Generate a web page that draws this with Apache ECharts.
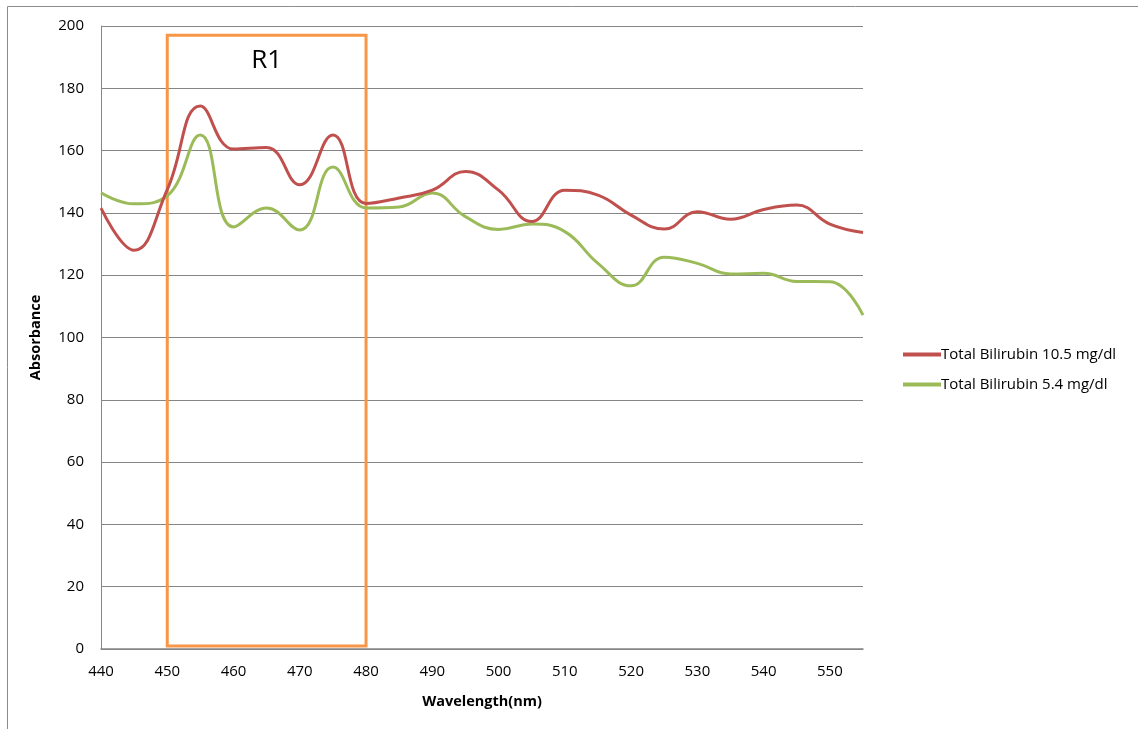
<!DOCTYPE html>
<html>
<head>
<meta charset="utf-8">
<script src="https://cdn.jsdelivr.net/npm/echarts@6/dist/echarts.min.js"></script>
<style>
html,body{margin:0;padding:0;background:#fff;}
#chart{width:1138px;height:729px;}
</style>
</head>
<body>
<div id="chart"></div>
<script>
const wavelengths = ['440','445','450','455','460','465','470','475','480','485','490','495','500','505','510','515','520','525','530','535','540','545','550','555'];
const bilirubin105 = [141.5,128,147.5,174.3,160.5,161,149,165,143,144.8,147.3,153.3,147.3,137.2,147.3,145.7,139.3,134.8,140.4,138,141.1,142.5,136.4,133.7];
const bilirubin54 = [146.5,142.9,145.5,165,135.5,141.6,134.5,154.7,141.6,141.9,146.4,138.8,134.7,136.4,134,123.8,116.6,125.8,123.8,120.4,120.6,118,117.9,107.2];
const seriesNames = ['Total Bilirubin 10.5 mg/dl','Total Bilirubin 5.4 mg/dl'];
const regionLabel = 'R1';
const regionStart = '450', regionEnd = '480';
const regionLow = 1, regionHigh = 197;

const font = '"Open Sans", "Noto Sans", sans-serif';
const chart = echarts.init(document.getElementById('chart'), null, {renderer:'canvas'});
chart.setOption({
  animation:false,
  backgroundColor:'#fff',
  grid:{left:101, top:26, right:275, bottom:80, containLabel:false},
  graphic:[
    {type:'line', shape:{x1:7.5,y1:6.5,x2:1138,y2:6.5}, style:{stroke:'#8c8c8c', lineWidth:1}},
    {type:'line', shape:{x1:7.5,y1:6.5,x2:7.5,y2:729}, style:{stroke:'#8c8c8c', lineWidth:1}}
  ],
  legend:{
    orient:'vertical', left:898, top:342, itemGap:15,
    itemWidth:38, itemHeight:4, icon:'rect',
    textStyle:{fontFamily:font, fontSize:15, color:'#000', padding:[0,0,0,-5]},
    data:seriesNames
  },
  xAxis:{
    type:'category', boundaryGap:false, data:wavelengths,
    name:'Wavelength(nm)', nameLocation:'middle', nameGap:45,
    nameTextStyle:{fontFamily:font, fontSize:14.5, fontWeight:'bold', color:'#000'},
    axisLine:{lineStyle:{color:'#868686', width:1.5}},
    axisTick:{show:false},
    axisLabel:{interval:1, margin:15, fontFamily:font, fontSize:15, color:'#000'},
    splitLine:{show:false}
  },
  yAxis:{
    type:'value', min:0, max:200, interval:20,
    name:'Absorbance', nameLocation:'middle', nameGap:58,
    nameTextStyle:{fontFamily:font, fontSize:14.5, fontWeight:'bold', color:'#000'},
    axisLine:{show:true, lineStyle:{color:'#868686', width:1}},
    axisTick:{show:false},
    axisLabel:{margin:17, fontFamily:font, fontSize:15, color:'#000'},
    splitLine:{lineStyle:{color:'#868686', width:1}}
  },
  series:[
    {
      name:seriesNames[0], type:'line', data:bilirubin105, smooth:0.45,
      showSymbol:false, symbol:'none',
      lineStyle:{color:'#C0504D', width:3}, itemStyle:{color:'#C0504D'},
      z:3,
      markArea:{
        silent:true,
        itemStyle:{color:'rgba(0,0,0,0)', borderColor:'#F79646', borderWidth:3},
        label:{show:true, position:'insideTop', distance:14, fontFamily:font, fontSize:26, color:'#000'},
        data:[[{name:regionLabel, xAxis:regionStart, yAxis:regionLow},{xAxis:regionEnd, yAxis:regionHigh}]]
      }
    },
    {
      name:seriesNames[1], type:'line', data:bilirubin54, smooth:0.45,
      showSymbol:false, symbol:'none',
      lineStyle:{color:'#9BBB59', width:3}, itemStyle:{color:'#9BBB59'},
      z:2
    }
  ]
});
</script>
</body>
</html>
